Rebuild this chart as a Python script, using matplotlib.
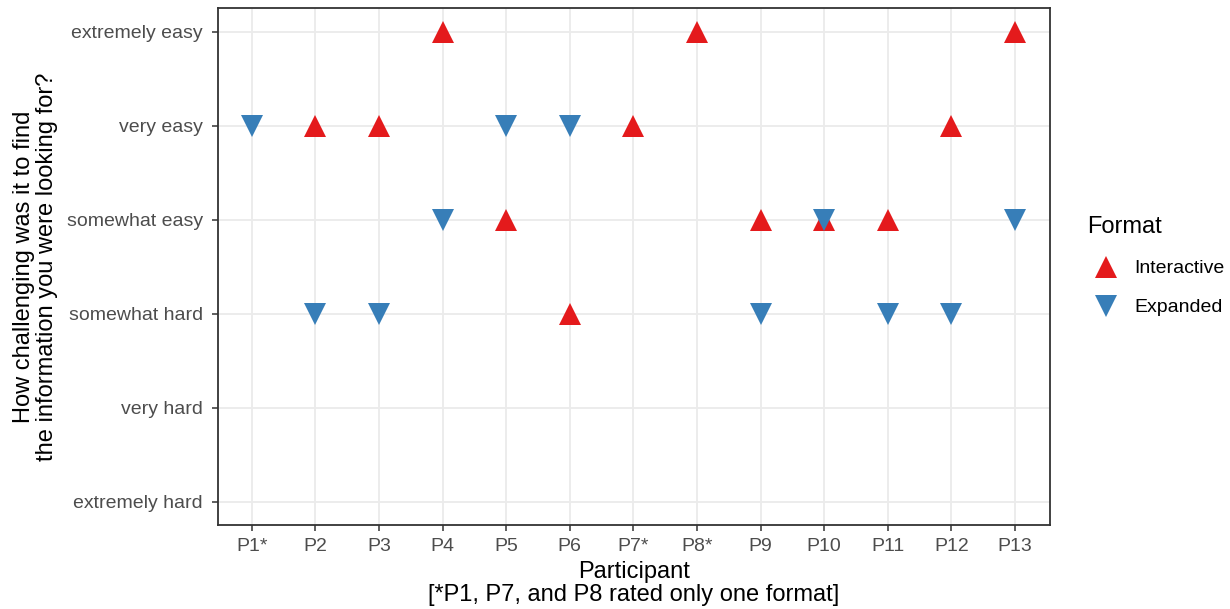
import numpy as np
import matplotlib.pyplot as plt

plt.rcParams['font.family'] = ['Liberation Sans', 'DejaVu Sans']

participants = ['P1*', 'P2', 'P3', 'P4', 'P5', 'P6', 'P7*', 'P8*', 'P9', 'P10', 'P11', 'P12', 'P13']
levels = ['extremely hard', 'very hard', 'somewhat hard', 'somewhat easy', 'very easy', 'extremely easy']

# ratings: 1 = extremely hard ... 6 = extremely easy, None = not rated
interactive = [None, 5, 5, 6, 4, 3, 5, 6, 4, 4, 4, 5, 6]
expanded = [5, 3, 3, 4, 5, 5, None, None, 3, 4, 3, 3, 4]

red = '#E41A1C'
blue = '#377EB8'

fig = plt.figure(figsize=(12.3, 6.09), dpi=100)
ax = fig.add_axes([218/1230, 84/609, 832/1230, 517/609])

x = np.arange(1, len(participants) + 1)
xi = [xx for xx, v in zip(x, interactive) if v is not None]
yi = [v for v in interactive if v is not None]
xe = [xx for xx, v in zip(x, expanded) if v is not None]
ye = [v for v in expanded if v is not None]

ax.plot(xi, yi, linestyle='none', marker='^', markersize=16.5, color=red,
        markeredgewidth=0, label='Interactive', zorder=3)
ax.plot(xe, ye, linestyle='none', marker='v', markersize=16.5, color=blue,
        markeredgewidth=0, label='Expanded', zorder=4)

ax.set_xlim(0.47, 13.55)
ax.set_ylim(0.75, 6.25)
ax.set_xticks(x)
ax.set_xticklabels(participants)
ax.set_yticks(range(1, 7))
ax.set_yticklabels(levels)

ax.grid(True, color='#EBEBEB', linewidth=1.3)
ax.set_axisbelow(True)
for s in ax.spines.values():
    s.set_color('#333333')
    s.set_linewidth(1.3)
ax.tick_params(axis='both', colors='#333333', labelcolor='#4D4D4D',
               labelsize=14, length=4, width=1.1)
ax.tick_params(axis='y', pad=7)
ax.tick_params(axis='x', pad=5.5)

ax.set_xlabel('Participant\n[*P1, P7, and P8 rated only one format]',
              fontsize=17, labelpad=4, linespacing=1.1)
ax.set_ylabel('How challenging was it to find\nthe information you were looking for?',
              fontsize=17, labelpad=6, linespacing=1.1)

leg = fig.legend(loc='upper left', bbox_to_anchor=(1070/1230, 1 - 199/609),
                 title='Format', frameon=False, fontsize=14, title_fontsize=17,
                 markerscale=1.0, handletextpad=0.5, labelspacing=1.1,
                 handlelength=1.9)
leg._legend_box.align = 'left'

fig.savefig('out.png', dpi=100)
